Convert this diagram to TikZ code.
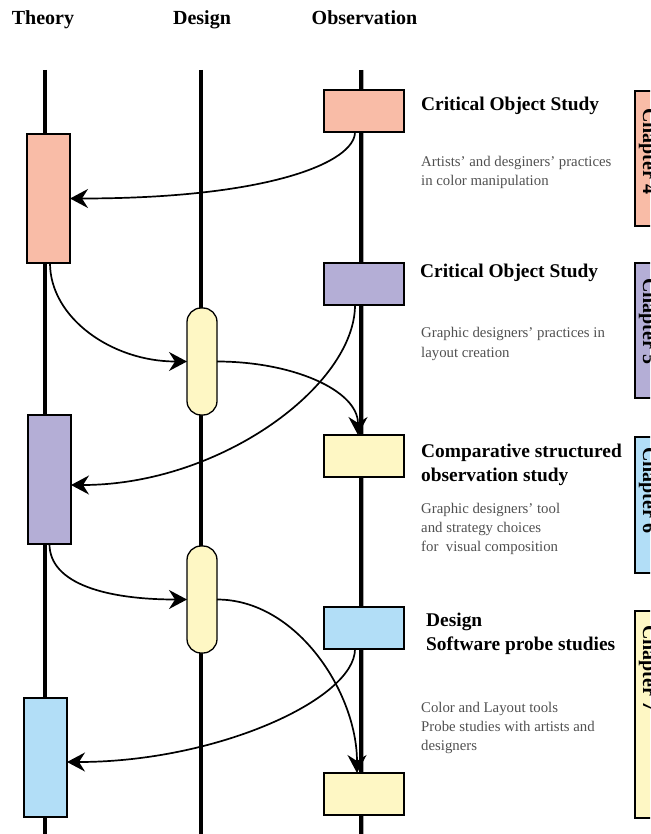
\documentclass[tikz,border=0pt]{standalone}
\usepackage{fontspec}
\setmainfont{Liberation Serif}
\usetikzlibrary{arrows.meta}
\definecolor{csal}{RGB}{249,188,167}
\definecolor{cpur}{RGB}{180,174,214}
\definecolor{cyel}{RGB}{254,247,196}
\definecolor{cblu}{RGB}{178,222,247}
\definecolor{descgray}{RGB}{80,80,80}
\begin{document}
\begin{tikzpicture}[x=1pt,y=-1pt,
  vline/.style={line width=4pt},
  box/.style={draw=black, line width=1.3pt, inner sep=0pt, outer sep=0pt, anchor=north west, rectangle},
  pill/.style={box, rounded corners=14pt},
  conn/.style={line width=1.7pt, -{Stealth[length=18pt,width=19pt,inset=6pt]}},
  head/.style={font=\fontsize{20}{24}\selectfont\bfseries, inner sep=0pt, anchor=base},
  ttl/.style={font=\fontsize{19.4}{24}\selectfont\bfseries, inner sep=0pt, anchor=base west},
  desc/.style={font=\fontsize{14.8}{19}\selectfont, text=descgray, inner sep=0pt, anchor=base west},
  chap/.style={font=\fontsize{20}{24}\selectfont\bfseries, inner sep=0pt, anchor=base west, rotate=-90}]
\useasboundingbox (0,0) rectangle (650,834);
\clip (0,0) rectangle (650,834);
% headers
\node[head] (hT) at (43,25) {Theory};
\node[head] (hD) at (202,25) {Design};
\node[head] (hO) at (364.5,25) {Observation};
% axes
\draw[vline] (44.7,70) -- (44.7,834);
\draw[vline] (201.3,70) -- (201.3,834);
\draw[line width=5.5pt, black!35] (361.3,70) -- (361.3,834);
\draw[vline] (361.3,70) -- (361.3,834);
% theory boxes
\node[box, fill=csal, minimum width=43pt, minimum height=129pt] (T1) at (27,134) {};
\node[box, fill=cpur, minimum width=43pt, minimum height=129pt] (T2) at (28,415) {};
\node[box, fill=cblu, minimum width=43pt, minimum height=119pt] (T3) at (24,698) {};
% design boxes
\node[pill, fill=cyel, minimum width=30pt, minimum height=107pt] (D1) at (187,308) {};
\node[pill, fill=cyel, minimum width=30pt, minimum height=107pt] (D2) at (187,546) {};
% observation boxes
\node[box, fill=csal, minimum width=80pt, minimum height=42pt] (O1) at (324,90) {};
\node[box, fill=cpur, minimum width=80pt, minimum height=42pt] (O2) at (324,263) {};
\node[box, fill=cyel, minimum width=80pt, minimum height=42pt] (O3) at (324,435) {};
\node[box, fill=cblu, minimum width=80pt, minimum height=42pt] (O4) at (324,607) {};
\node[box, fill=cyel, minimum width=80pt, minimum height=42pt] (O5) at (324,773) {};
% chapter boxes
\node[box, fill=csal, minimum width=30pt, minimum height=135pt] (C4) at (635,91) {};
\node[box, fill=cpur, minimum width=30pt, minimum height=135pt] (C5) at (635,263) {};
\node[box, fill=cblu, minimum width=30pt, minimum height=136pt] (C6) at (635,437) {};
\node[box, fill=cyel, minimum width=30pt, minimum height=207pt] (C7) at (635,611) {};
\node[chap] (C4t) at (643,108) {Chapter 4};
\node[chap] (C5t) at (643,278) {Chapter 5};
\node[chap] (C6t) at (643,447) {Chapter 6};
\node[chap] (C7t) at (643,625) {Chapter 7};
% texts
\node[ttl] (t1) at (421,111) {Critical Object Study};
\node[desc] (d1a) at (421,167) {Artists’ and desginers’ practices};
\node[desc] (d1b) at (421,186) {in color manipulation};
\node[ttl] (t2) at (420,277) {Critical Object Study};
\node[desc] (d2a) at (421,337) {Graphic designers’ practices in};
\node[desc] (d2b) at (421,357) {layout creation};
\node[ttl] (t3a) at (421,457) {Comparative structured};
\node[ttl] (t3b) at (421,481) {observation study};
\node[desc] (d3a) at (421,513) {Graphic designers’ tool};
\node[desc] (d3b) at (421,532) {and strategy choices};
\node[desc] (d3c) at (421,551) {for\ \ visual composition};
\node[ttl] (t4a) at (426,626) {Design};
\node[ttl] (t4b) at (426,650) {Software probe studies};
\node[desc] (d4a) at (421,712) {Color and Layout tools};
\node[desc] (d4b) at (421,731) {Probe studies with artists and};
\node[desc] (d4c) at (421,750) {designers};
% connectors
\draw[conn] ([xshift=-9pt]O1.south) .. controls +(0,30) and +(200,0) .. (T1.east);
\draw[conn] ([xshift=1.5pt]T1.south) .. controls +(0,55) and +(-75,0) .. (D1.west);
\draw[conn] (D1.east) .. controls +(75,0) and +(0,-45) .. ([xshift=-6pt]O3.north);
\draw[conn] ([xshift=-9pt]O2.south) .. controls +(0,80) and +(150,0) .. ([yshift=-5.5pt]T2.east);
\draw[conn] (T2.south) .. controls +(0,40) and +(-80,0) .. (D2.west);
\draw[conn] (D2.east) .. controls +(80,0) and +(0,-80) .. ([xshift=-7pt]O5.north);
\draw[conn] ([xshift=-9pt]O4.south) .. controls +(0,50) and +(150,0) .. ([yshift=-4.5pt]T3.east);
\end{tikzpicture}
\end{document}
